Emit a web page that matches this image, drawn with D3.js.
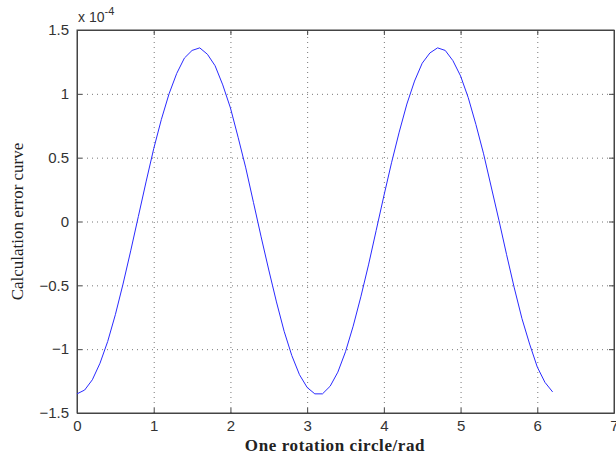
<!DOCTYPE html>
<html>
  <head>
    <meta charset="utf-8">
    <style type="text/css">
      body { margin: 0; background: #fff; }
      .axis text { font-family: "Liberation Sans", Arial, sans-serif; font-size: 15px; fill: #333; }
      .axis path, .axis line { stroke: #444; stroke-width: 1px; }
      .grid line { stroke: #777; stroke-width: 1px; stroke-dasharray: 1px 4px; }
      .grid path { display: none; }
      .label { font-family: "Liberation Serif", "Times New Roman", serif; font-size: 17px; fill: #222; }
    </style>
  </head>
  <body>
    <script src="https://cdn.jsdelivr.net/npm/d3@7"></script>
    <script>
    // values (x in rad, y in units of 1e-4)
    var xs = [0, 0.1, 0.2, 0.3, 0.4, 0.5, 0.6, 0.7, 0.8, 0.9,
              1.0, 1.1, 1.2, 1.3, 1.4, 1.5, 1.6, 1.7, 1.8, 1.9,
              2.0, 2.1, 2.2, 2.3, 2.4, 2.5, 2.6, 2.7, 2.8, 2.9,
              3.0, 3.1, 3.2, 3.3, 3.4, 3.5, 3.6, 3.7, 3.8, 3.9,
              4.0, 4.1, 4.2, 4.3, 4.4, 4.5, 4.6, 4.7, 4.8, 4.9,
              5.0, 5.1, 5.2, 5.3, 5.4, 5.5, 5.6, 5.7, 5.8, 5.9,
              6.0, 6.1, 6.2];
    var ys = [-1.35, -1.32, -1.24, -1.11, -0.94, -0.73, -0.49, -0.23, 0.04, 0.31,
              0.57, 0.80, 1.00, 1.16, 1.28, 1.34, 1.36, 1.31, 1.22, 1.07,
              0.89, 0.66, 0.42, 0.15, -0.12, -0.38, -0.63, -0.86, -1.05, -1.20,
              -1.30, -1.35, -1.35, -1.29, -1.18, -1.02, -0.82, -0.59, -0.34, -0.07,
              0.20, 0.46, 0.70, 0.92, 1.10, 1.24, 1.32, 1.36, 1.34, 1.26,
              1.14, 0.97, 0.76, 0.53, 0.27, 0.01, -0.26, -0.52, -0.76, -0.96,
              -1.14, -1.26, -1.335];
    var xTicks = [0, 1, 2, 3, 4, 5, 6, 7];
    var yTicks = [-1.5, -1, -0.5, 0, 0.5, 1, 1.5];

    var margin = {top: 30, right: 2, bottom: 45, left: 77};
    var width = 614 - margin.left,
        height = 413 - margin.top;

    var x = d3.scaleLinear().domain([0, 7]).range([0, width]);
    var y = d3.scaleLinear().domain([-1.5, 1.5]).range([height, 0]);
    var fmt = d3.format("");

    var svg = d3.select("body").append("svg")
        .attr("width", 616)
        .attr("height", 458)
      .append("g")
        .attr("transform", "translate(" + margin.left + "," + margin.top + ")");

    // dotted grid
    svg.append("g")
        .attr("class", "grid")
        .attr("transform", "translate(0," + height + ")")
        .call(d3.axisBottom(x).tickValues(xTicks.slice(1, -1)).tickSize(-height).tickFormat(""));
    svg.append("g")
        .attr("class", "grid")
        .call(d3.axisLeft(y).tickValues(yTicks.slice(1, -1)).tickSize(-width).tickFormat(""));

    // box
    svg.append("rect")
        .attr("width", width).attr("height", height)
        .attr("fill", "none").attr("stroke", "#444");

    svg.append("g")
        .attr("class", "x axis")
        .attr("transform", "translate(0," + height + ")")
        .call(d3.axisBottom(x).tickValues(xTicks).tickSizeInner(-5).tickSizeOuter(0).tickPadding(7).tickFormat(fmt));
    svg.append("g")
        .attr("class", "x axis")
        .call(d3.axisTop(x).tickValues(xTicks).tickSizeInner(-5).tickSizeOuter(0).tickFormat(""));

    svg.append("g")
        .attr("class", "y axis")
        .call(d3.axisLeft(y).tickValues(yTicks).tickSizeInner(-5).tickSizeOuter(0).tickPadding(8).tickFormat(fmt));
    svg.append("g")
        .attr("class", "y axis")
        .attr("transform", "translate(" + width + ",0)")
        .call(d3.axisRight(y).tickValues(yTicks).tickSizeInner(-5).tickSizeOuter(0).tickFormat(""));

    // exponent
    var ex = svg.append("text")
        .attr("x", 1).attr("y", -8)
        .style("font-family", "Liberation Sans, Arial, sans-serif")
        .style("font-size", "14px").style("fill", "#333");
    ex.append("tspan").text("x 10");
    ex.append("tspan").attr("dy", -7).style("font-size", "11px").text("-4");

    // curve
    var pts = xs.map(function(d, i) { return [d, ys[i]]; });
    svg.append("path")
        .datum(pts)
        .attr("fill", "none")
        .attr("stroke", "#2a2aff")
        .attr("stroke-width", 1)
        .attr("d", d3.line().x(function(d) { return x(d[0]); }).y(function(d) { return y(d[1]); }));

    // labels
    svg.append("text")
        .attr("class", "label")
        .attr("x", 258).attr("y", 421)
        .attr("text-anchor", "middle")
        .style("font-weight", "bold")
        .style("letter-spacing", "0.6px")
        .text("One rotation circle/rad");
    svg.append("text")
        .attr("class", "label")
        .attr("transform", "translate(-54," + (height / 2) + ") rotate(-90)")
        .attr("text-anchor", "middle")
        .text("Calculation error curve");
    </script>
  </body>
</html>
